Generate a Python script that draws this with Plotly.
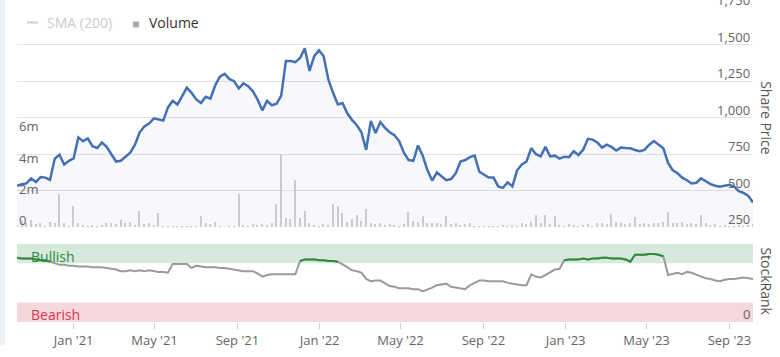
import pandas as pd
import plotly.graph_objects as go

# ---- data (weekly readings, Oct 2020 - Oct 2023) ----
start_date = "2020-10-09"

share_price = [534,545,550,585,560,594,590,574,720,746,
    680,705,722,865,839,858,805,792,830,800,
    750,700,705,730,760,815,900,940,960,995,
    990,980,1070,1115,1090,1150,1205,1170,1125,1100,
    1143,1130,1220,1280,1300,1265,1250,1200,1235,1215,
    1180,1123,1050,1115,1085,1095,1150,1388,1388,1380,
    1408,1474,1320,1421,1461,1420,1260,1170,1090,1100,
    1030,985,950,900,780,977,895,970,930,900,
    880,840,760,710,705,810,740,640,570,625,
    595,572,580,620,700,710,730,740,630,610,
    590,590,530,520,558,530,640,680,700,792,
    750,735,800,735,740,720,733,730,770,745,
    780,855,850,830,795,815,800,775,795,792,
    790,779,770,780,815,840,815,790,690,640,
    620,590,572,550,555,585,565,545,534,528,
    535,541,528,498,485,465,420]

volume_m = [0.15,0.4,0.3,0.45,0.2,0.25,0.1,0.35,0.3,2.1,
    0.3,0.1,1.35,0.3,0.15,0.1,0.12,0.1,0.15,0.25,
    0.3,0.2,0.45,0.25,0.35,0.15,1.05,0.2,0.25,0.15,
    0.9,0.1,0.05,0.1,0.05,0.08,0.1,0.05,0.1,0.74,
    0.3,0.2,0.35,0.03,0.02,0.03,0.1,2.1,0.15,0.1,
    0.2,0.15,0.2,0.12,0.25,1.5,4.7,0.6,0.5,3.0,
    0.6,1.05,0.3,0.15,0.1,0.2,0.15,1.5,1.35,0.92,
    0.35,0.5,0.8,0.4,1.15,0.3,0.2,0.25,0.15,0.2,
    0.15,0.1,0.2,0.98,0.4,0.35,0.74,0.3,0.25,0.3,
    0.2,0.74,0.2,0.25,0.15,0.2,0.25,0.1,0.05,0.03,
    0.05,0.1,0.05,0.15,0.05,0.12,0.05,0.3,0.2,0.35,
    0.8,0.3,0.8,0.2,0.74,0.15,0.1,0.2,0.15,0.1,
    0.15,0.2,0.1,0.25,0.3,0.2,0.86,0.35,0.3,0.2,
    0.25,0.67,0.2,0.25,0.2,0.3,0.25,0.35,0.98,0.3,
    0.25,0.35,0.2,0.3,0.2,0.8,0.25,0.15,0.2,0.1,
    0.15,0.1,0.05,0.15,0.1,0.15,0.2]

stock_rank = [82,81,81,81,80,79,79,77,74,73,
    73,72,72,71,71,71,70,70,70,69,
    68,67,65,65,66,65,66,65,66,65,
    64,64,63,74,74,74,74,69,72,71,
    70,70,70,69,69,68,67,66,65,65,
    65,62,58,60,61,61,61,61,61,61,
    78,80,80,80,79,79,78,78,77,74,
    70,66,65,63,55,52,53,53,50,46,
    45,43,43,43,42,42,39,41,44,47,
    48,49,45,44,43,42,47,50,53,53,
    52,52,52,52,50,49,48,47,47,61,
    58,57,60,64,67,68,79,80,80,80,
    81,80,81,81,82,82,81,81,81,80,
    77,86,86,86,87,87,86,84,60,62,
    63,61,64,63,60,58,56,55,53,52,
    54,55,55,56,57,56,55]

price_ticks = [250, 500, 750, 1000, 1250, 1500, 1750]
volume_ticks = [0, 2, 4, 6]
volume_tick_labels = ["0", "2m", "4m", "6m"]
rank_ticks = [0]
bullish_level = 75

dates = pd.date_range(start_date, periods=len(share_price), freq="7D")

FONT = "Open Sans, Liberation Sans, sans-serif"
TICK_COLOR = "#666666"

fig = go.Figure()

fig.add_trace(go.Scatter(
    x=dates, y=share_price, xaxis="x", yaxis="y",
    mode="lines", line=dict(color="#4570b5", width=2.5),
    fill="tozeroy", fillcolor="rgba(70,112,181,0.05)", hoverinfo="skip", showlegend=False))

fig.add_trace(go.Bar(
    x=dates, y=volume_m, xaxis="x", yaxis="y2",
    marker=dict(color="#cbcbcb", line=dict(width=0)),
    width=2 * 86400000, showlegend=False))

fig.add_trace(go.Scatter(
    x=dates, y=stock_rank, xaxis="x", yaxis="y3",
    mode="lines", line=dict(color="#9a9a9a", width=2), showlegend=False))

green_rank = [v if v > bullish_level else None for v in stock_rank]
fig.add_trace(go.Scatter(
    x=dates, y=green_rank, xaxis="x", yaxis="y3",
    mode="lines", line=dict(color="#2f8b3c", width=2),
    connectgaps=False, showlegend=False))

# plot geometry in pixels
W, H = 780, 357
L, R, T, B = 17, 27, 8, 24
pw, ph = W - L - R, H - T - B
def px(x):
    return (x - L) / pw
def py(y):
    return (H - B - y) / ph

fig.update_layout(
    width=W, height=H,
    margin=dict(l=L, r=R, t=T, b=B),
    paper_bgcolor="white", plot_bgcolor="white",
    font=dict(family=FONT, size=13, color=TICK_COLOR),
    showlegend=False, bargap=0,
    xaxis=dict(
        anchor="y3", range=[dates[0], dates[-1]],
        tick0="2021-01-01", dtick="M4", tickformat="%b '%y",
        ticks="outside", ticklen=6, tickcolor="#cccccc",
        showgrid=False, zeroline=False, showline=False,
        tickfont=dict(size=13, color=TICK_COLOR)),
    yaxis=dict(
        domain=[py(235), 1], range=[250, 1750], side="right",
        tickvals=price_ticks, showticklabels=False,
        showgrid=True, gridcolor="#e3e3e3", gridwidth=1,
        zeroline=False, showline=False),
    yaxis2=dict(
        overlaying="y", side="left", range=[0, 14],
        tickvals=volume_ticks, showticklabels=False,
        showgrid=False, zeroline=False, showline=False),
    yaxis3=dict(
        domain=[0, py(252)], range=[0, 100], side="right",
        tickvals=rank_ticks, showticklabels=False,
        showgrid=False, zeroline=False, showline=False),
)

shapes = [
    dict(type="rect", xref="x domain", yref="y3", x0=0, x1=1,
         y0=bullish_level, y1=100, fillcolor="#d6e9dc", line=dict(width=0), layer="below"),
    dict(type="rect", xref="x domain", yref="y3", x0=0, x1=1,
         y0=0, y1=25, fillcolor="#f5d7dc", line=dict(width=0), layer="below"),
    # left page strip
    dict(type="rect", xref="paper", yref="paper", x0=px(0), x1=px(5), y0=py(H), y1=py(0),
         fillcolor="#eef1f6", line=dict(width=0), layer="below"),
    # legend symbols
    dict(type="line", xref="paper", yref="paper", x0=px(27), x1=px(38), y0=py(23), y1=py(23),
         line=dict(color="#cccccc", width=2)),
    dict(type="rect", xref="paper", yref="paper", x0=px(133), x1=px(139), y0=py(28), y1=py(22),
         fillcolor="#aaaaaa", line=dict(width=0)),
]
fig.update_layout(shapes=shapes)

tick_font = dict(size=13, color=TICK_COLOR, family=FONT)
annotations = []
# axis tick labels, drawn just above their tick positions inside the plot
for v in price_ticks:
    annotations.append(dict(text=f"{v:,}", xref="x domain", x=1, xanchor="right", xshift=-1,
                            yref="y", y=v, yanchor="middle", yshift=8,
                            showarrow=False, font=tick_font))
for v, t in zip(volume_ticks, volume_tick_labels):
    annotations.append(dict(text=t, xref="x domain", x=0, xanchor="left", xshift=0,
                            yref="y2", y=v, yanchor="middle", yshift=7,
                            showarrow=False, font=tick_font))
for v in rank_ticks:
    annotations.append(dict(text=str(v), xref="x domain", x=1, xanchor="right", xshift=-1,
                            yref="y3", y=v, yanchor="middle", yshift=8,
                            showarrow=False, font=tick_font))

annotations += [
    dict(text="SMA (200)", x=px(45), y=py(23), xref="paper", yref="paper",
         xanchor="left", yanchor="middle", showarrow=False,
         font=dict(size=14, color="#cccccc", family=FONT)),
    dict(text="Volume", x=px(147), y=py(23), xref="paper", yref="paper",
         xanchor="left", yanchor="middle", showarrow=False,
         font=dict(size=14, color="#333333", family=FONT)),
    dict(text="Bullish", x=px(29), y=py(265), xref="paper", yref="paper",
         xanchor="left", yanchor="middle", showarrow=False,
         font=dict(size=14, color="#2f8b3c", family=FONT)),
    dict(text="Bearish", x=px(29), y=py(325), xref="paper", yref="paper",
         xanchor="left", yanchor="middle", showarrow=False,
         font=dict(size=14, color="#d9344f", family=FONT)),
    dict(text="Share Price", x=px(767), y=py(122), xref="paper", yref="paper",
         xanchor="center", yanchor="middle", textangle=90, showarrow=False,
         font=dict(size=14, color="#555555", family=FONT)),
    dict(text="StockRank", x=px(767), y=py(291), xref="paper", yref="paper",
         xanchor="center", yanchor="middle", textangle=90, showarrow=False,
         font=dict(size=14, color="#555555", family=FONT)),
]
fig.update_layout(annotations=annotations)

fig.write_html("out.html", config={"displayModeBar": False},
               post_script="document.body.style.margin='0';")
